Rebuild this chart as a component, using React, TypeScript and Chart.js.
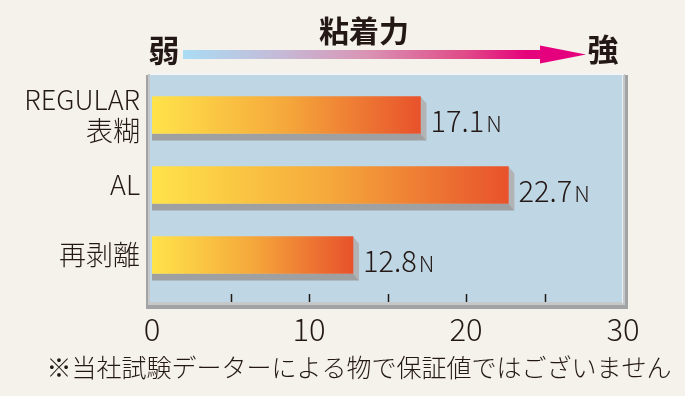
import React, { useEffect, useRef } from "react";
import { Chart, registerables } from "chart.js";

Chart.register(...registerables);

// ---- data ----
const categories: (string | string[])[] = [["REGULAR", "表糊"], "AL", "再剥離"];
const values: number[] = [17.1, 22.7, 12.8];
const xMin = 0;
const xMax = 30;
const xStep = 10;
const minorTicks: number[] = [5, 10, 15, 20, 25];
const unitLabel = "N";
const weakLabel = "弱";
const strongLabel = "強";
const arrowTitle = "粘着力";
const noteText = "※当社試験データーによる物で保証値ではございません";

const FONT = '"Noto Sans CJK JP", "Noto Sans", sans-serif';
const TEXT = "#231815";
const PAGE_BG = "#f5f1eb";
const PLOT_BG = "#bfd7e5";

const framePlugin = {
  id: "frame",
  beforeDatasetsDraw(chart: any) {
    const { ctx, chartArea, scales } = chart;
    const x = scales.x;
    const left = x.getPixelForValue(xMin) - 2;
    const right = x.getPixelForValue(xMax) - 1;
    const top = chartArea.top - 5;
    const bottom = chartArea.bottom + 12;
    ctx.save();
    ctx.fillStyle = "#a2a3a5";
    ctx.fillRect(left - 4, top, right - left + 10, bottom - top + 7);
    ctx.fillStyle = "#c6c7c9";
    ctx.fillRect(left - 2, top - 1, right - left + 5, bottom - top + 4);
    ctx.fillStyle = "#f4f4f4";
    ctx.fillRect(left, top - 2, right - left + 2, 2);
    ctx.fillStyle = PLOT_BG;
    ctx.fillRect(left, top, right - left, bottom - top);
    ctx.fillStyle = "#e6eef3";
    ctx.fillRect(right, top, 1, bottom - top + 1);
    ctx.strokeStyle = TEXT;
    ctx.lineWidth = 1.5;
    for (const v of minorTicks) {
      const px = Math.round(x.getPixelForValue(v)) + 0.5;
      ctx.beginPath();
      ctx.moveTo(px, bottom - 8);
      ctx.lineTo(px, bottom);
      ctx.stroke();
    }
    const meta = chart.getDatasetMeta(0);
    const dx = 6;
    const dy = 7;
    meta.data.forEach((el: any) => {
      const h = el.height;
      const t = el.y - h / 2;
      const b = el.y + h / 2;
      const x0 = el.base;
      const x1 = el.x;
      ctx.fillStyle = "#b2b3b5";
      ctx.beginPath();
      ctx.moveTo(x1, t);
      ctx.lineTo(x1 + dx, t + dy);
      ctx.lineTo(x1 + dx, b + dy);
      ctx.lineTo(x1, b);
      ctx.closePath();
      ctx.fill();
      ctx.fillStyle = "#9fa0a2";
      ctx.beginPath();
      ctx.moveTo(x0, b);
      ctx.lineTo(x1, b);
      ctx.lineTo(x1 + dx, b + dy);
      ctx.lineTo(x0, b + dy);
      ctx.closePath();
      ctx.fill();
    });
    ctx.restore();
  },
  afterDatasetsDraw(chart: any) {
    const { ctx } = chart;
    const meta = chart.getDatasetMeta(0);
    ctx.save();
    ctx.fillStyle = TEXT;
    ctx.textAlign = "left";
    ctx.textBaseline = "alphabetic";
    meta.data.forEach((el: any, i: number) => {
      const txt = values[i].toFixed(1);
      const tx = el.x + 10;
      const ty = el.y + 17;
      ctx.font = `300 29px ${FONT}`;
      ctx.fillText(txt, tx, ty);
      const w = ctx.measureText(txt).width;
      ctx.font = `300 22px ${FONT}`;
      ctx.fillText(unitLabel, tx + w + 2, ty);
    });
    ctx.restore();
  },
  afterDraw(chart: any) {
    const { ctx, scales } = chart;
    const x = scales.x;
    const x0 = x.getPixelForValue(xMin);
    ctx.save();
    ctx.fillStyle = TEXT;
    ctx.textAlign = "center";
    ctx.textBaseline = "middle";
    ctx.font = `bold 31px ${FONT}`;
    ctx.fillText(weakLabel, x0 + 12, 50);
    ctx.fillText(strongLabel, 603, 49);
    ctx.font = `bold 30px ${FONT}`;
    ctx.fillText(arrowTitle, 364, 31);
    const aStart = x0 + 31;
    const headStart = 540;
    const tip = 586;
    const cy = 54.5;
    const g = ctx.createLinearGradient(aStart, 0, tip, 0);
    g.addColorStop(0, "#aadcf4");
    g.addColorStop(0.25, "#c6b9d6");
    g.addColorStop(0.45, "#d995b5");
    g.addColorStop(0.7, "#e04b88");
    g.addColorStop(0.85, "#e5037c");
    g.addColorStop(1, "#e5007e");
    ctx.fillStyle = g;
    ctx.fillRect(aStart, cy - 4.5, headStart - aStart + 1, 9);
    ctx.fillStyle = "#e5007e";
    ctx.beginPath();
    ctx.moveTo(headStart, cy - 9);
    ctx.lineTo(tip, cy);
    ctx.lineTo(headStart, cy + 9);
    ctx.closePath();
    ctx.fill();
    ctx.fillStyle = TEXT;
    ctx.font = `300 25px ${FONT}`;
    ctx.fillText(noteText, 359, 367);
    ctx.restore();
  },
};

export default function App() {
  const ref = useRef<HTMLCanvasElement | null>(null);
  useEffect(() => {
    document.body.style.margin = "0";
    document.body.style.background = PAGE_BG;
    const canvas = ref.current;
    if (!canvas) return;
    const chart = new Chart(canvas, {
      type: "bar",
      data: {
        labels: categories as any,
        datasets: [
          {
            data: values,
            barThickness: 37,
            borderWidth: 0,
            backgroundColor: (c: any) => {
              const ch = c.chart;
              const sx = ch.scales && ch.scales.x;
              const v = values[c.dataIndex];
              if (!sx || c.type !== "data" || v === undefined) return "#f4a63b";
              const a = sx.getPixelForValue(xMin);
              const b = sx.getPixelForValue(v);
              if (!isFinite(a) || !isFinite(b) || a === b) return "#f4a63b";
              const g = ch.ctx.createLinearGradient(a, 0, b, 0);
              g.addColorStop(0, "#ffe34a");
              g.addColorStop(0.5, "#f5a83b");
              g.addColorStop(1, "#e8522c");
              return g;
            },
          },
        ],
      },
      options: {
        indexAxis: "y",
        responsive: false,
        animation: false,
        layout: { padding: { top: 80, right: 62, bottom: 46, left: 0 } },
        plugins: {
          legend: { display: false },
          tooltip: { enabled: false },
        },
        scales: {
          x: {
            min: xMin,
            max: xMax,
            ticks: {
              stepSize: xStep,
              color: TEXT,
              font: { size: 31, family: FONT, weight: "300" },
              padding: 21,
              maxRotation: 0,
            },
            grid: { display: false, drawTicks: false },
            border: { display: false },
            afterFit: (s: any) => {
              s.height = 60;
            },
          },
          y: {
            ticks: {
              color: TEXT,
              font: { size: 27, family: FONT, weight: "300", lineHeight: 1.15 },
              padding: 12,
            },
            grid: { display: false, drawTicks: false },
            border: { display: false },
            afterFit: (s: any) => {
              s.width = 152;
            },
          },
        },
      },
      plugins: [framePlugin],
    });
    return () => chart.destroy();
  }, []);
  return (
    <div style={{ position: "relative", width: 685, height: 396, background: PAGE_BG }}>
      <canvas ref={ref} width={685} height={396} style={{ display: "block", width: 685, height: 396 }} />
    </div>
  );
}
